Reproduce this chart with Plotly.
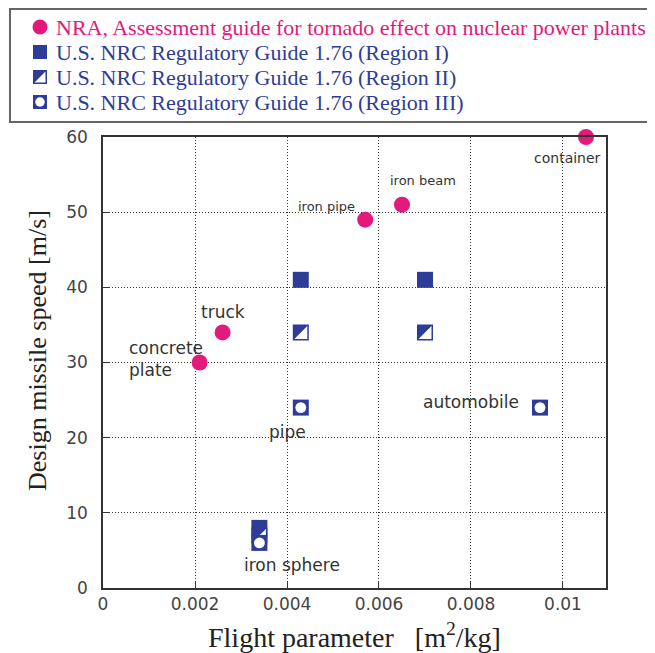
import plotly.graph_objects as go

# page body has an 8px default margin, so the figure is 8px smaller and all pixel positions shift by 8
W, H = 647, 645

# ---- data ----
nra_x = [0.0021, 0.0026, 0.0057, 0.0065, 0.0105]
nra_y = [30, 34, 49, 51, 60]

reg1_x = [0.0043, 0.0070, 0.0034]
reg1_y = [41, 41, 8]

reg2_x = [0.0043, 0.0070, 0.0034]
reg2_y = [34, 34, 7]

reg3_x = [0.0043, 0.0095, 0.0034]
reg3_y = [24, 24, 6]

x_ticks = [0, 0.002, 0.004, 0.006, 0.008, 0.01]
x_tick_labels = ["0", "0.002", "0.004", "0.006", "0.008", "0.01"]
y_ticks = [0, 10, 20, 30, 40, 50, 60]
y_tick_labels = ["0", "10", "20", "30", "40", "50", "60"]

legend_labels = [
    "NRA, Assessment guide for tornado effect on nuclear power plants",
    "U.S. NRC Regulatory Guide 1.76 (Region I)",
    "U.S. NRC Regulatory Guide 1.76 (Region II)",
    "U.S. NRC Regulatory Guide 1.76 (Region III)",
]

# item labels: (text, x, y, size, anchor)
item_labels = [
    ("container", 0.01010, 57.2, 14, "center"),
    ("iron beam", 0.00696, 54.2, 13, "center"),
    ("iron pipe", 0.00485, 50.8, 13, "center"),
    ("truck", 0.00261, 36.7, 17, "center"),
    ("concrete", 0.00052, 31.9, 17, "left"),
    ("plate", 0.00052, 29.0, 17, "left"),
    ("pipe", 0.00402, 20.8, 17, "center"),
    ("automobile", 0.00800, 24.8, 17, "center"),
    ("iron sphere", 0.00410, 3.0, 17, "center"),
]

PINK = "#e3197b"
BLUE = "#2d3d97"
SQ = 16
LW = 1.5

# pixel layout of plot area (figure coordinates)
L, R, T, B = 95, 598, 129, 580

fig = go.Figure()
shapes = []


def add_markers(xa, ya, x, y, kind, sz=SQ):
    common = dict(mode="markers", xaxis=xa, yaxis=ya, showlegend=False,
                  cliponaxis=False, hoverinfo="skip")
    if kind == "nra":
        fig.add_trace(go.Scatter(x=x, y=y, marker=dict(symbol="circle", size=sz, color=PINK,
                                                       line=dict(width=0)), **common))
    elif kind == "r1":
        fig.add_trace(go.Scatter(x=x, y=y, marker=dict(symbol="square", size=sz, color=BLUE,
                                                       line=dict(width=0)), **common))
    elif kind == "r2":
        fig.add_trace(go.Scatter(x=x, y=y, marker=dict(symbol="square", size=sz - LW, color="white",
                                                       line=dict(width=LW, color=BLUE)), **common))
        h = (sz - LW) / 2
        for xi, yi in zip(x, y):
            shapes.append(dict(type="path", xref=xa, yref=ya, xsizemode="pixel", ysizemode="pixel",
                               xanchor=xi, yanchor=yi,
                               path=f"M {-h} {h} L {h} {h} L {-h} {-h} Z",
                               fillcolor=BLUE, line=dict(width=0), layer="above"))
    elif kind == "r3":
        fig.add_trace(go.Scatter(x=x, y=y, marker=dict(symbol="square", size=sz, color=BLUE,
                                                       line=dict(width=0)), **common))
        fig.add_trace(go.Scatter(x=x, y=y, marker=dict(symbol="circle", size=sz * 0.68, color="white",
                                                       line=dict(width=0)), **common))


add_markers("x", "y", reg1_x, reg1_y, "r1")
add_markers("x", "y", reg2_x, reg2_y, "r2")
add_markers("x", "y", reg3_x, reg3_y, "r3")
add_markers("x", "y", nra_x, nra_y, "nra")

# legend swatches on a pixel-coordinate overlay axis
leg_x = 32
leg_rows = [19, 44, 69, 94]
add_markers("x2", "y2", [leg_x], [leg_rows[0]], "nra", 15)
add_markers("x2", "y2", [leg_x], [leg_rows[1]], "r1", 14)
add_markers("x2", "y2", [leg_x], [leg_rows[2]], "r2", 14)
add_markers("x2", "y2", [leg_x], [leg_rows[3]], "r3", 14)

annotations = []
for i, (lab, row) in enumerate(zip(legend_labels, leg_rows)):
    annotations.append(dict(x=46, y=row, xref="x2", yref="y2", text=lab, showarrow=False,
                            xanchor="left", yanchor="middle",
                            font=dict(family="Liberation Serif", size=22,
                                      color=PINK if i == 0 else BLUE)))

for text, x, y, sz, anc in item_labels:
    annotations.append(dict(x=x, y=y, xref="x", yref="y", text=text, showarrow=False,
                            xanchor=anc, yanchor="middle",
                            font=dict(family="DejaVu Sans", size=sz, color="#333333")))

annotations.append(dict(x=346, y=627, xref="x2", yref="y2",
                        text="Flight parameter   [m<sup>2</sup>/kg]", showarrow=False,
                        xanchor="center", yanchor="middle",
                        font=dict(family="Liberation Serif", size=28, color="#222222")))
annotations.append(dict(x=29, y=343, xref="x2", yref="y2",
                        text="Design missile speed [m/s]", showarrow=False, textangle=-90,
                        xanchor="center", yanchor="middle",
                        font=dict(family="Liberation Serif", size=26, color="#222222")))

shapes.append(dict(type="rect", xref="x2", yref="y2", x0=2, y0=1, x1=720, y1=114,
                   line=dict(color="#666666", width=2), fillcolor="rgba(0,0,0,0)"))

axis_common = dict(showline=True, linecolor="#333333", linewidth=1.5, mirror=True,
                   ticks="inside", ticklen=7, tickcolor="#333333", tickwidth=1,
                   showgrid=True, gridcolor="#333333", griddash="1px,2px", gridwidth=1,
                   zeroline=False, automargin=False,
                   tickfont=dict(family="DejaVu Sans", size=17, color="#444444"))

fig.update_layout(
    width=W, height=H,
    margin=dict(l=0, r=0, t=0, b=0),
    paper_bgcolor="white", plot_bgcolor="rgba(0,0,0,0)",
    showlegend=False,
    xaxis=dict(domain=[L / W, R / W], range=[0, 0.010935], tickvals=x_ticks,
               ticktext=x_tick_labels, anchor="y", **axis_common),
    yaxis=dict(domain=[1 - B / H, 1 - T / H], range=[0, 60], tickvals=y_ticks,
               ticktext=y_tick_labels, anchor="x", ticklabelstandoff=10, **axis_common),
    xaxis2=dict(domain=[0, 1], range=[0, W], visible=False, anchor="y2", fixedrange=True),
    yaxis2=dict(domain=[0, 1], range=[H, 0], visible=False, anchor="x2", fixedrange=True),
    annotations=annotations,
    shapes=shapes,
)

fig.write_html("out.html")
